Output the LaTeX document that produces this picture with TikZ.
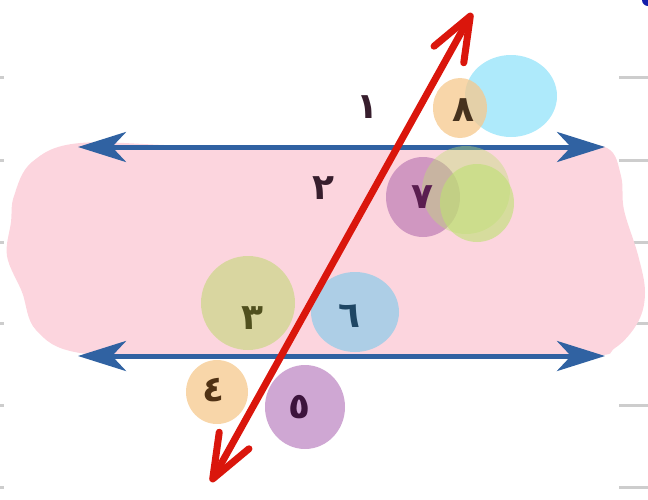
\documentclass[tikz,border=0pt]{standalone}
\usepackage{fontspec}
\newfontfamily\arabicfont[Script=Arabic]{DejaVu Sans}
\usetikzlibrary{arrows.meta}
\definecolor{bandPink}{RGB}{252,213,222}
\definecolor{lineBlue}{RGB}{48,98,162}
\definecolor{lineRed}{RGB}{218,22,12}
\definecolor{tickGray}{RGB}{205,205,205}
\definecolor{spotOrange}{RGB}{246,200,140}
\definecolor{spotCyan}{RGB}{160,230,250}
\definecolor{spotPurple}{RGB}{180,110,175}
\definecolor{spotLilac}{RGB}{195,145,200}
\definecolor{spotGreen}{RGB}{190,225,115}
\definecolor{spotOlive}{RGB}{212,215,150}
\definecolor{spotBlue}{RGB}{160,205,232}
\definecolor{inkDark}{RGB}{55,30,45}
\definecolor{cornerBlue}{RGB}{20,30,170}

\begin{document}
\begin{tikzpicture}[x=1pt,y=-1pt,
    num/.style={font=\arabicfont\bfseries\fontsize{36}{40}\selectfont,text=inkDark,inner sep=0pt},
    parallel/.style={lineBlue,line width=5pt,{Stealth[length=48pt,width=30pt,inset=14pt]}-{Stealth[length=48pt,width=30pt,inset=14pt]}},
    transversal/.style={lineRed,line width=7pt,line cap=round,{Straight Barb[length=44pt,width=34pt,round]}-{Straight Barb[length=44pt,width=34pt,round]}}]
  \useasboundingbox (0,0) rectangle (648,499);
  % margin ticks
  \foreach \y in {77,160,242,323,405,487}{
    \draw[tickGray,line width=3pt] (0,\y) -- (4,\y);
    \draw[tickGray,line width=3pt] (619,\y) -- (648,\y);
  }
  \fill[cornerBlue] (648,0) circle (6);
  % band between the parallels
  \fill[bandPink] plot[smooth cycle,tension=0.6] coordinates {(80,143) (200,146) (400,146) (560,146) (607,148) (621,176) (624,210)
    (638,255) (645,292) (638,322) (615,348) (585,356) (400,357) (200,357) (80,353) (36,330) (22,292) (7,256) (11,222) (14,196) (32,162)};
  % parallel lines
  \coordinate (aL) at (78,147);
  \coordinate (aR) at (605,147);
  \coordinate (bL) at (78,356);
  \coordinate (bR) at (605,356);
  \draw[parallel] (aL) -- (aR);
  \draw[parallel] (bL) -- (bR);
  % angle spots
  \foreach \x/\y/\rx/\ry/\col/\op in {511/96/46/41/spotCyan/0.85,460/108/27/30/spotOrange/0.75,
      423/197/37/40/spotPurple/0.6,466/190/44/44/spotGreen/0.4,477/203/37/39/spotGreen/0.6,
      248/303/47/47/spotOlive/0.85,355/312/44/40/spotBlue/0.85,217/392/31/32/spotOrange/0.75,305/407/40/42/spotLilac/0.8}{
    \fill[\col,opacity=\op] (\x,\y) ellipse ({\rx} and {\ry});
  }
  % angle numbers
  \node[num] (n1) at (367,107) {١};
  \node[num] (n2) at (323,188) {٢};
  \node[num,text={rgb,255:red,80;green,80;blue,30}] (n3) at (252,318) {٣};
  \node[num,text={rgb,255:red,80;green,50;blue,20}] (n4) at (213,390) {٤};
  \node[num,text={rgb,255:red,60;green,20;blue,60}] (n5) at (299,407) {٥};
  \node[num,text={rgb,255:red,30;green,70;blue,100}] (n6) at (349,316) {٦};
  \node[num,text={rgb,255:red,90;green,30;blue,80}] (n7) at (422,197) {٧};
  \node[num,text={rgb,255:red,70;green,50;blue,30}] (n8) at (463,110) {٨};
  % transversal
  \coordinate (tTop) at (472,13);
  \coordinate (tBot) at (211,482);
  \draw[transversal] (tBot) -- (tTop);
\end{tikzpicture}
\end{document}
